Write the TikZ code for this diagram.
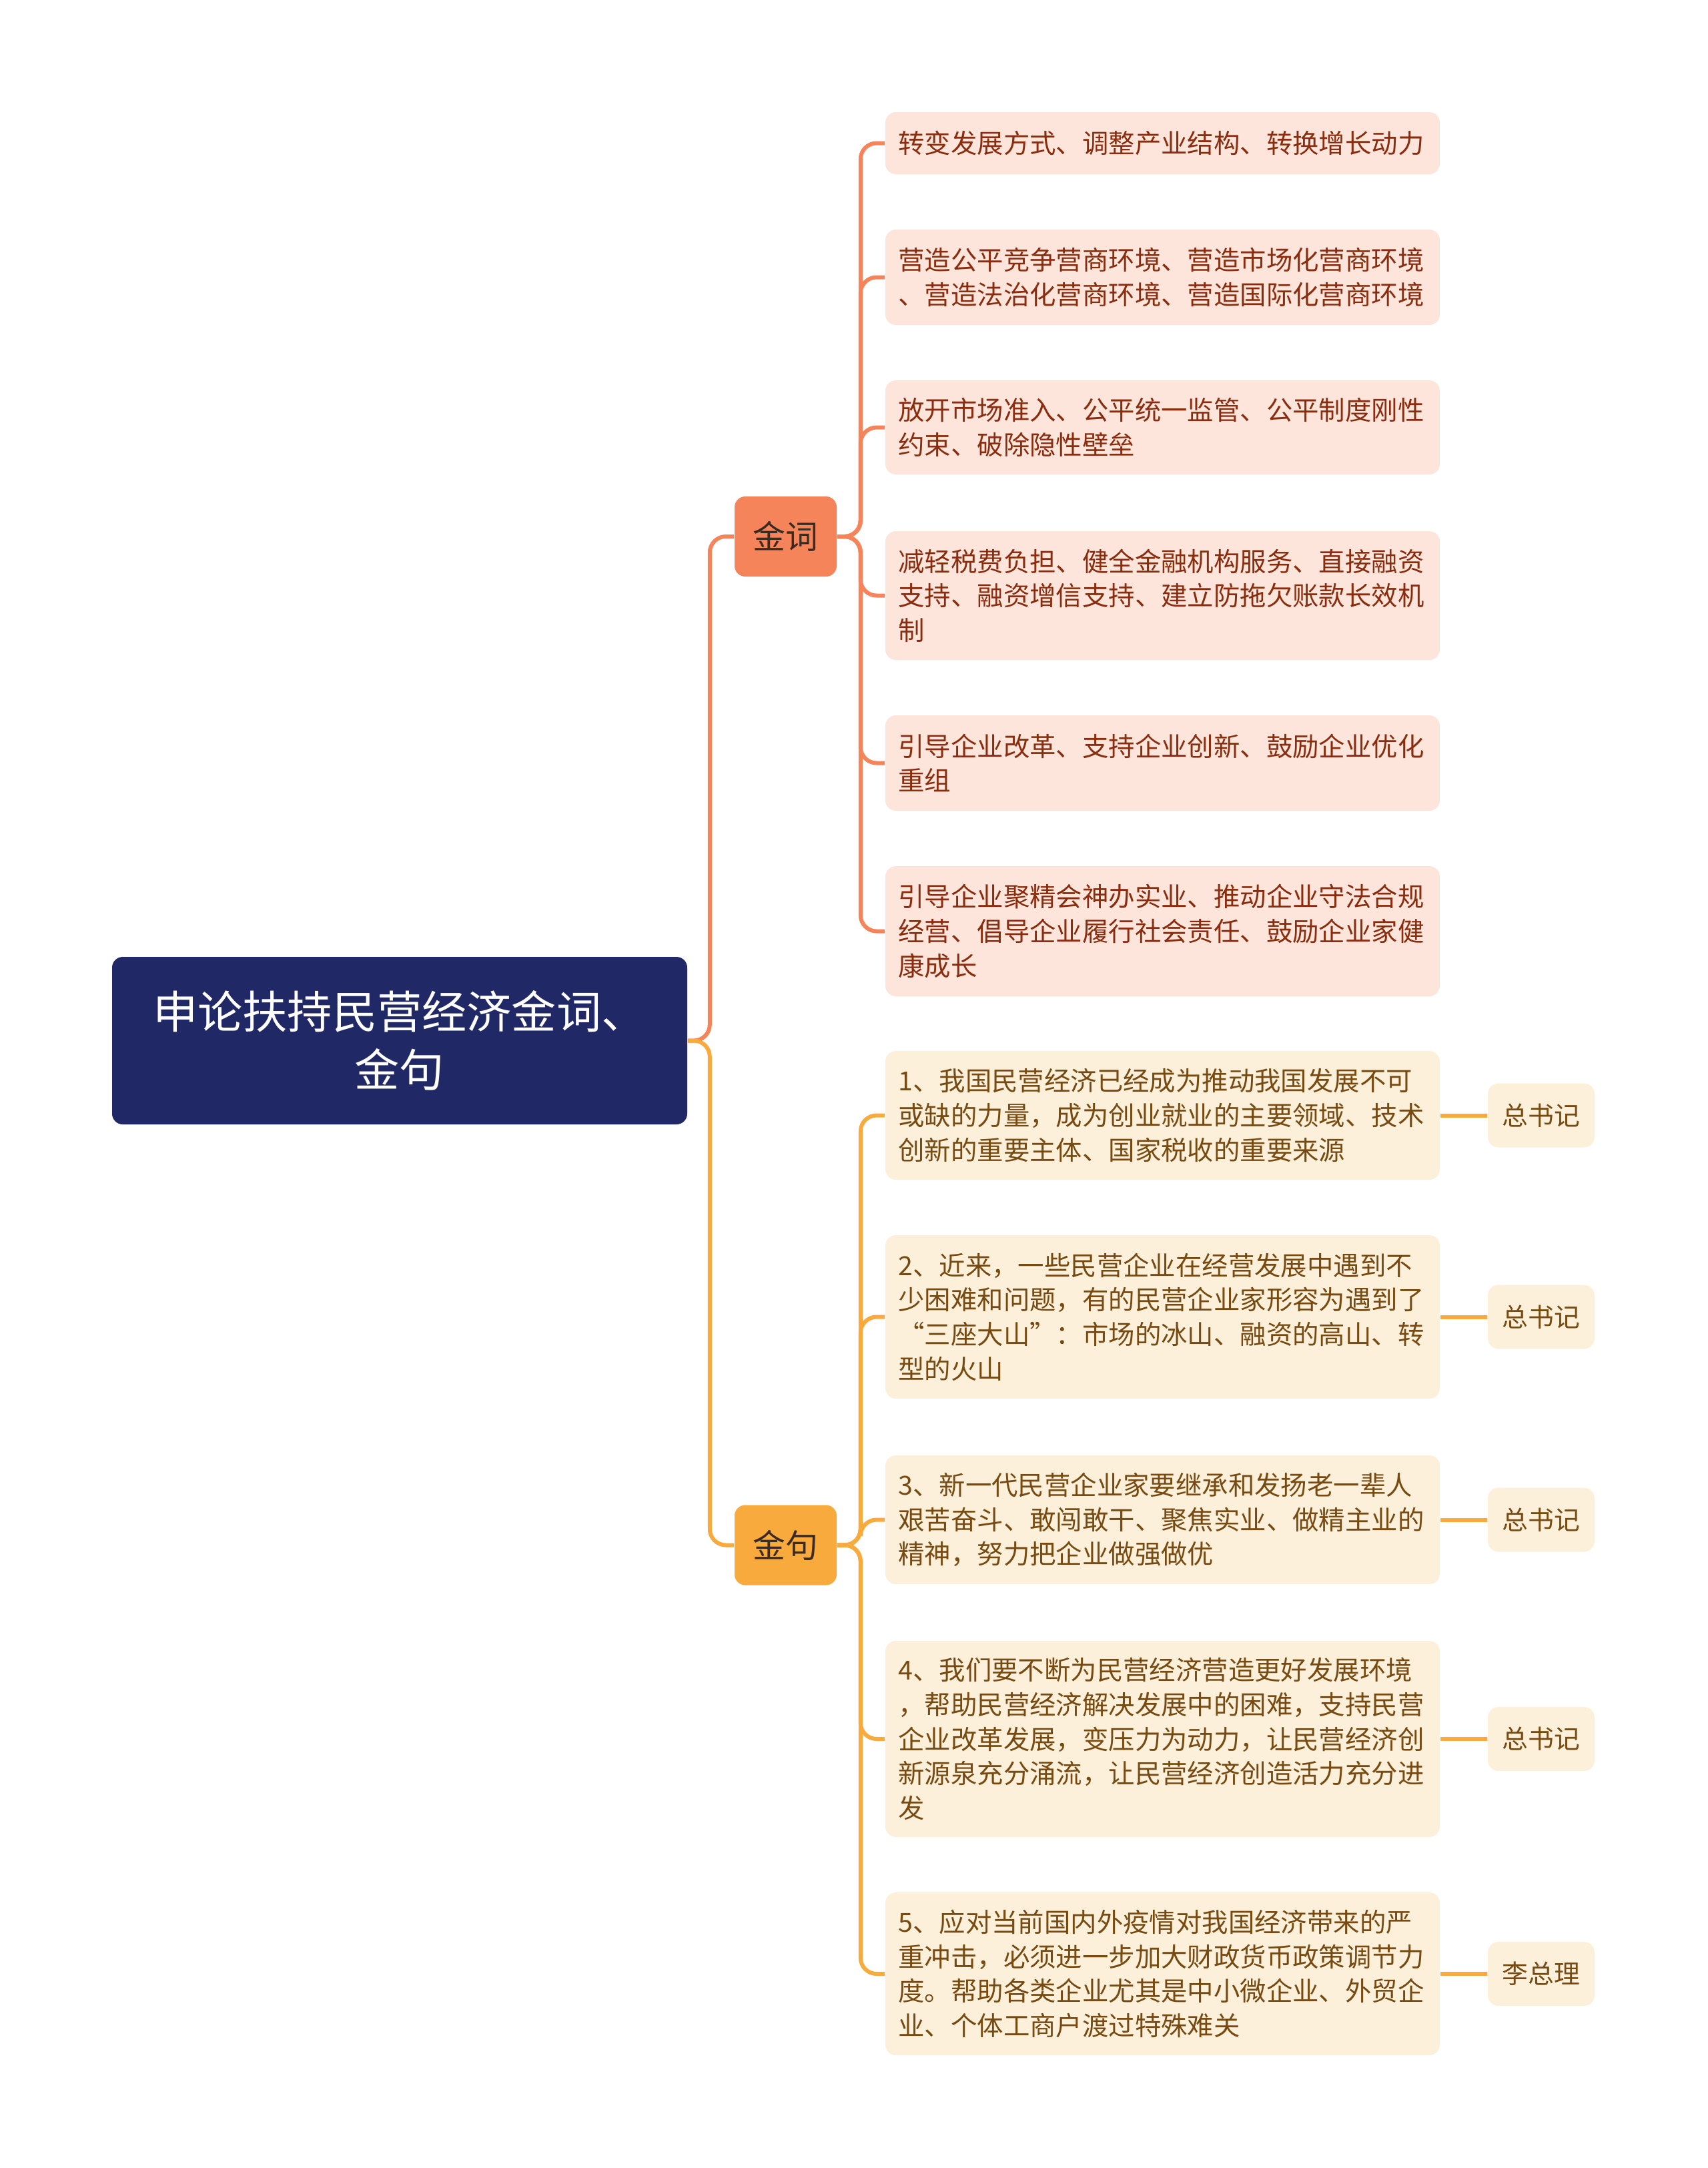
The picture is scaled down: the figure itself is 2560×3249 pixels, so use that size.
\documentclass[tikz,border=0pt]{standalone}
\usepackage{fontspec}
\setmainfont{Noto Sans CJK SC}
\usepackage{tikz}
\usetikzlibrary{positioning,calc}
\definecolor{RootNavy}{HTML}{212866}
\definecolor{CiCoral}{HTML}{F6845A}
\definecolor{JuAmber}{HTML}{F9AA3C}
\definecolor{CiPale}{HTML}{FDE5DC}
\definecolor{JuPale}{HTML}{FDF0DA}
\definecolor{CiInk}{HTML}{8A2C0E}
\definecolor{JuInk}{HTML}{774A12}
\definecolor{BranchInk}{HTML}{3B2B22}

\begin{document}
\begin{tikzpicture}[x=0.25pt,y=-0.25pt,
  rootbox/.style={fill=RootNavy,text=white,rounded corners=4pt,align=center,
    minimum width=215.5pt,minimum height=62.75pt,inner sep=0pt,
    font=\fontsize{16.8pt}{21.8pt}\selectfont},
  branchbox/.style={rounded corners=4pt,minimum width=38.25pt,minimum height=30pt,
    inner sep=0pt,text=BranchInk,font=\fontsize{12.2pt}{14pt}\selectfont},
  leafbox/.style={rounded corners=4pt,text width=198pt,inner xsep=4.9pt,inner ysep=0pt,
    align=left,font=\fontsize{9.85pt}{12.9pt}\selectfont},
  cileaf/.style={leafbox,fill=CiPale,text=CiInk},
  juleaf/.style={leafbox,fill=JuPale,text=JuInk},
  tagbox/.style={fill=JuPale,text=JuInk,rounded corners=4pt,minimum width=40pt,
    minimum height=24pt,inner sep=0pt,font=\fontsize{9.7pt}{12pt}\selectfont},
  cilink/.style={draw=CiCoral,line width=1.5pt,rounded corners=6pt},
  julink/.style={draw=JuAmber,line width=1.5pt,rounded corners=6pt}]
  \useasboundingbox (0,0) rectangle (2560,3249);

  \node[rootbox] (root) at (599,1559.5) {申论扶持民营经济金词、\\金句};
  \node[branchbox,fill=CiCoral] (ci) at (1177.5,804) {金词};
  \node[branchbox,fill=JuAmber] (ju) at (1177.5,2315.5) {金句};

  \node[cileaf,minimum height=23.25pt] (p1) at (1742.5,214.5)
    {转变发展方式、调整产业结构、转换增长动力};
  \node[cileaf,minimum height=35.75pt] (p2) at (1742.5,415.5)
    {营造公平竞争营商环境、营造市场化营商环境\\、营造法治化营商环境、营造国际化营商环境};
  \node[cileaf,minimum height=35.25pt] (p3) at (1742.5,640.5)
    {放开市场准入、公平统一监管、公平制度刚性\\约束、破除隐性壁垒};
  \node[cileaf,minimum height=48.25pt] (p4) at (1742.5,892.5)
    {减轻税费负担、健全金融机构服务、直接融资\\支持、融资增信支持、建立防拖欠账款长效机\\制};
  \node[cileaf,minimum height=35.75pt] (p5) at (1742.5,1143.5)
    {引导企业改革、支持企业创新、鼓励企业优化\\重组};
  \node[cileaf,minimum height=48.75pt] (p6) at (1742.5,1395.5)
    {引导企业聚精会神办实业、推动企业守法合规\\经营、倡导企业履行社会责任、鼓励企业家健\\康成长};

  \node[juleaf,minimum height=48.25pt] (q1) at (1742.5,1671.5)
    {1、我国民营经济已经成为推动我国发展不可\\或缺的力量，成为创业就业的主要领域、技术\\创新的重要主体、国家税收的重要来源};
  \node[juleaf,minimum height=61.25pt] (q2) at (1742.5,1973.5)
    {2、近来，一些民营企业在经营发展中遇到不\\少困难和问题，有的民营企业家形容为遇到了\\“三座大山”：市场的冰山、融资的高山、转\\型的火山};
  \node[juleaf,minimum height=48.25pt] (q3) at (1742.5,2277.5)
    {3、新一代民营企业家要继承和发扬老一辈人\\艰苦奋斗、敢闯敢干、聚焦实业、做精主业的\\精神，努力把企业做强做优};
  \node[juleaf,minimum height=73.5pt] (q4) at (1742.5,2606)
    {4、我们要不断为民营经济营造更好发展环境\\，帮助民营经济解决发展中的困难，支持民营\\企业改革发展，变压力为动力，让民营经济创\\新源泉充分涌流，让民营经济创造活力充分进\\发};
  \node[juleaf,minimum height=61pt] (q5) at (1742.5,2958)
    {5、应对当前国内外疫情对我国经济带来的严\\重冲击，必须进一步加大财政货币政策调节力\\度。帮助各类企业尤其是中小微企业、外贸企\\业、个体工商户渡过特殊难关};

  \node[tagbox] (t1) at (2310,1671.5) {总书记};
  \node[tagbox] (t2) at (2310,1973.5) {总书记};
  \node[tagbox] (t3) at (2310,2277.5) {总书记};
  \node[tagbox] (t4) at (2310,2606) {总书记};
  \node[tagbox] (t5) at (2310,2958) {李总理};

  \draw[cilink] (root.east) -- ++(33,0) |- (ci.west);
  \draw[julink] (root.east) -- ++(33,0) |- (ju.west);
  \foreach \n in {p1,p2,p3,p4,p5,p6}
    \draw[cilink] (ci.east) -- ++(35,0) |- (\n.west);
  \foreach \n in {q1,q2,q3,q4,q5}
    \draw[julink] (ju.east) -- ++(35,0) |- (\n.west);
  \foreach \n/\t in {q1/t1,q2/t2,q3/t3,q4/t4,q5/t5}
    \draw[julink] (\n.east) -- (\t.west);
\end{tikzpicture}
\end{document}
